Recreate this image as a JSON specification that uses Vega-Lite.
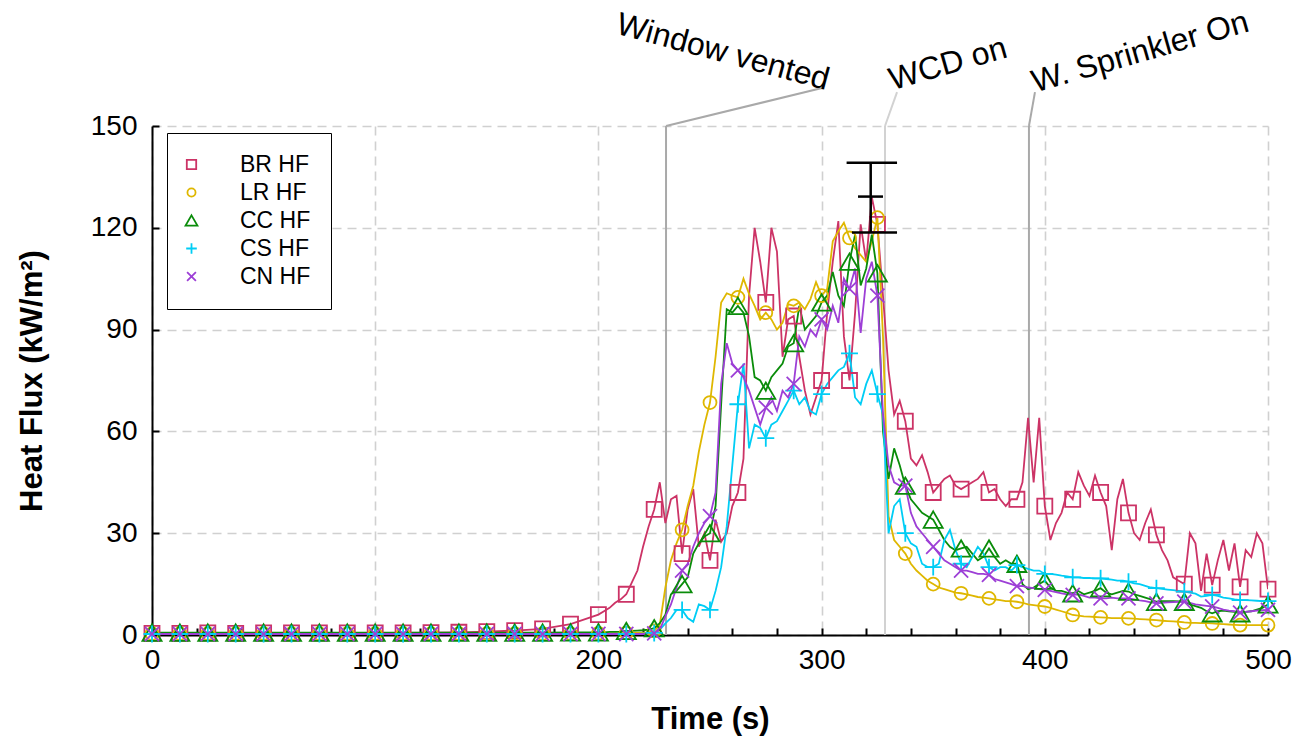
{
  "$schema": "https://vega.github.io/schema/vega-lite/v6.json",
  "width": 1116,
  "height": 509,
  "autosize": {"type": "none"},
  "padding": {"left": 152, "top": 126, "right": 43, "bottom": 103},
  "background": "white",
  "config": {
    "view": {"stroke": null},
    "font": "Liberation Sans",
    "axis": {
      "labelFont": "Liberation Sans",
      "labelFontSize": 28,
      "labelColor": "black",
      "labelOverlap": false,
      "titleFont": "Liberation Sans",
      "titleFontSize": 31,
      "titleFontWeight": "bold",
      "titleColor": "black",
      "domainColor": "black",
      "domainWidth": 2,
      "tickColor": "black",
      "tickWidth": 2,
      "tickSize": -7,
      "gridColor": "#d0d0d0",
      "gridDash": [9, 6],
      "gridWidth": 1.6
    }
  },
  "datasets": {
    "flux": [
      {"t": 0, "BR HF": 0.5, "LR HF": 0.4, "CC HF": 0.7, "CS HF": 0.3, "CN HF": 0.3},
      {"t": 12.5, "BR HF": 0.5, "LR HF": 0.4, "CC HF": 0.7, "CS HF": 0.3, "CN HF": 0.3},
      {"t": 25, "BR HF": 0.6, "LR HF": 0.4, "CC HF": 0.7, "CS HF": 0.3, "CN HF": 0.3},
      {"t": 37.5, "BR HF": 0.5, "LR HF": 0.4, "CC HF": 0.7, "CS HF": 0.3, "CN HF": 0.3},
      {"t": 50, "BR HF": 0.6, "LR HF": 0.4, "CC HF": 0.7, "CS HF": 0.3, "CN HF": 0.3},
      {"t": 62.5, "BR HF": 0.6, "LR HF": 0.4, "CC HF": 0.7, "CS HF": 0.3, "CN HF": 0.3},
      {"t": 75, "BR HF": 0.6, "LR HF": 0.4, "CC HF": 0.7, "CS HF": 0.3, "CN HF": 0.3},
      {"t": 87.5, "BR HF": 0.6, "LR HF": 0.4, "CC HF": 0.7, "CS HF": 0.3, "CN HF": 0.3},
      {"t": 100, "BR HF": 0.6, "LR HF": 0.4, "CC HF": 0.7, "CS HF": 0.3, "CN HF": 0.3},
      {"t": 112.5, "BR HF": 0.6, "LR HF": 0.4, "CC HF": 0.7, "CS HF": 0.3, "CN HF": 0.3},
      {"t": 125, "BR HF": 0.7, "LR HF": 0.4, "CC HF": 0.7, "CS HF": 0.3, "CN HF": 0.3},
      {"t": 137.5, "BR HF": 0.8, "LR HF": 0.4, "CC HF": 0.7, "CS HF": 0.3, "CN HF": 0.3},
      {"t": 150, "BR HF": 1.0, "LR HF": 0.4, "CC HF": 0.7, "CS HF": 0.3, "CN HF": 0.3},
      {"t": 162.5, "BR HF": 1.3, "LR HF": 0.4, "CC HF": 0.7, "CS HF": 0.3, "CN HF": 0.3},
      {"t": 175, "BR HF": 1.8, "LR HF": 0.4, "CC HF": 0.7, "CS HF": 0.3, "CN HF": 0.3},
      {"t": 187.5, "BR HF": 3.2, "LR HF": 0.4, "CC HF": 0.8, "CS HF": 0.3, "CN HF": 0.3},
      {"t": 200, "BR HF": 6, "LR HF": 0.5, "CC HF": 0.8, "CS HF": 0.3, "CN HF": 0.3},
      {"t": 202.5, "BR HF": 7, "LR HF": 0.5, "CC HF": 0.8, "CS HF": 0.3, "CN HF": 0.3},
      {"t": 205, "BR HF": 8, "LR HF": 0.5, "CC HF": 0.9, "CS HF": 0.3, "CN HF": 0.3},
      {"t": 207.5, "BR HF": 9.5, "LR HF": 0.5, "CC HF": 0.9, "CS HF": 0.3, "CN HF": 0.3},
      {"t": 210, "BR HF": 10.5, "LR HF": 0.5, "CC HF": 1, "CS HF": 0.3, "CN HF": 0.3},
      {"t": 212.5, "BR HF": 12, "LR HF": 0.6, "CC HF": 1.2, "CS HF": 0.3, "CN HF": 0.3},
      {"t": 215, "BR HF": 15.5, "LR HF": 0.6, "CC HF": 1.2, "CS HF": 0.3, "CN HF": 0.3},
      {"t": 217.5, "BR HF": 19, "LR HF": 0.6, "CC HF": 1.3, "CS HF": 0.3, "CN HF": 0.3},
      {"t": 220, "BR HF": 26, "LR HF": 0.7, "CC HF": 1.4, "CS HF": 0.4, "CN HF": 0.3},
      {"t": 222.5, "BR HF": 32, "LR HF": 0.8, "CC HF": 1.6, "CS HF": 0.5, "CN HF": 0.4},
      {"t": 225, "BR HF": 37, "LR HF": 1.2, "CC HF": 2, "CS HF": 0.6, "CN HF": 0.5},
      {"t": 227.5, "BR HF": 45, "LR HF": 3, "CC HF": 3.5, "CS HF": 1.5, "CN HF": 1.5},
      {"t": 230, "BR HF": 33, "LR HF": 14, "CC HF": 6, "CS HF": 3.4, "CN HF": 5.5},
      {"t": 232.5, "BR HF": 40, "LR HF": 22, "CC HF": 12, "CS HF": 5, "CN HF": 9},
      {"t": 235, "BR HF": 41, "LR HF": 27, "CC HF": 13, "CS HF": 7.4, "CN HF": 14},
      {"t": 237.5, "BR HF": 24, "LR HF": 31, "CC HF": 15, "CS HF": 7.4, "CN HF": 19},
      {"t": 240, "BR HF": 37, "LR HF": 38, "CC HF": 17, "CS HF": 5, "CN HF": 21},
      {"t": 242.5, "BR HF": 43, "LR HF": 44, "CC HF": 24, "CS HF": 3.9, "CN HF": 26},
      {"t": 245, "BR HF": 26, "LR HF": 54, "CC HF": 27, "CS HF": 9, "CN HF": 30},
      {"t": 247.5, "BR HF": 30, "LR HF": 62, "CC HF": 29, "CS HF": 8.5, "CN HF": 33},
      {"t": 250, "BR HF": 22, "LR HF": 68.5, "CC HF": 30, "CS HF": 7.4, "CN HF": 35},
      {"t": 252.5, "BR HF": 34, "LR HF": 82, "CC HF": 38, "CS HF": 13, "CN HF": 42},
      {"t": 255, "BR HF": 27.5, "LR HF": 98, "CC HF": 68, "CS HF": 20, "CN HF": 74},
      {"t": 257.5, "BR HF": 30, "LR HF": 100.7, "CC HF": 96, "CS HF": 32, "CN HF": 86},
      {"t": 260, "BR HF": 38, "LR HF": 100, "CC HF": 95, "CS HF": 50, "CN HF": 80},
      {"t": 262.5, "BR HF": 42, "LR HF": 99.5, "CC HF": 97, "CS HF": 68, "CN HF": 78},
      {"t": 265, "BR HF": 52, "LR HF": 105, "CC HF": 95, "CS HF": 80, "CN HF": 76},
      {"t": 267.5, "BR HF": 100, "LR HF": 100.5, "CC HF": 88, "CS HF": 55, "CN HF": 72},
      {"t": 270, "BR HF": 120, "LR HF": 97, "CC HF": 76, "CS HF": 62, "CN HF": 67},
      {"t": 272.5, "BR HF": 110, "LR HF": 93, "CC HF": 75, "CS HF": 61, "CN HF": 62},
      {"t": 275, "BR HF": 98, "LR HF": 95, "CC HF": 72, "CS HF": 58, "CN HF": 67},
      {"t": 277.5, "BR HF": 120, "LR HF": 93, "CC HF": 76, "CS HF": 62, "CN HF": 70},
      {"t": 280, "BR HF": 113, "LR HF": 90, "CC HF": 78, "CS HF": 63, "CN HF": 66},
      {"t": 282.5, "BR HF": 82, "LR HF": 92, "CC HF": 80, "CS HF": 66, "CN HF": 72},
      {"t": 285, "BR HF": 93, "LR HF": 97.5, "CC HF": 85, "CS HF": 69, "CN HF": 70},
      {"t": 287.5, "BR HF": 94, "LR HF": 97, "CC HF": 86, "CS HF": 72, "CN HF": 74},
      {"t": 290, "BR HF": 82, "LR HF": 98, "CC HF": 97, "CS HF": 68, "CN HF": 88},
      {"t": 292.5, "BR HF": 72, "LR HF": 96, "CC HF": 90, "CS HF": 70, "CN HF": 85},
      {"t": 295, "BR HF": 65, "LR HF": 99, "CC HF": 92, "CS HF": 66, "CN HF": 90},
      {"t": 297.5, "BR HF": 70, "LR HF": 104, "CC HF": 94, "CS HF": 65, "CN HF": 88},
      {"t": 300, "BR HF": 75, "LR HF": 100, "CC HF": 98, "CS HF": 71, "CN HF": 93},
      {"t": 302.5, "BR HF": 95, "LR HF": 102, "CC HF": 100, "CS HF": 74, "CN HF": 90},
      {"t": 305, "BR HF": 110, "LR HF": 116, "CC HF": 107, "CS HF": 76, "CN HF": 97},
      {"t": 307.5, "BR HF": 122, "LR HF": 119, "CC HF": 100, "CS HF": 78, "CN HF": 92},
      {"t": 310, "BR HF": 88, "LR HF": 121.5, "CC HF": 97, "CS HF": 79, "CN HF": 105},
      {"t": 312.5, "BR HF": 75, "LR HF": 117, "CC HF": 110, "CS HF": 83, "CN HF": 102},
      {"t": 315, "BR HF": 95, "LR HF": 114, "CC HF": 118, "CS HF": 70, "CN HF": 108},
      {"t": 317.5, "BR HF": 121, "LR HF": 112, "CC HF": 103, "CS HF": 68, "CN HF": 89},
      {"t": 320, "BR HF": 110, "LR HF": 110, "CC HF": 108, "CS HF": 74, "CN HF": 105},
      {"t": 322.5, "BR HF": 129, "LR HF": 116, "CC HF": 118, "CS HF": 78, "CN HF": 110},
      {"t": 325, "BR HF": 121, "LR HF": 123, "CC HF": 106.6, "CS HF": 71, "CN HF": 100},
      {"t": 327.5, "BR HF": 100, "LR HF": 88, "CC HF": 60, "CS HF": 65, "CN HF": 65},
      {"t": 330, "BR HF": 78, "LR HF": 35, "CC HF": 46, "CS HF": 30, "CN HF": 50},
      {"t": 332.5, "BR HF": 65, "LR HF": 28, "CC HF": 55, "CS HF": 38, "CN HF": 45},
      {"t": 335, "BR HF": 69, "LR HF": 26, "CC HF": 50, "CS HF": 40, "CN HF": 44},
      {"t": 337.5, "BR HF": 63, "LR HF": 24, "CC HF": 44, "CS HF": 30, "CN HF": 44},
      {"t": 340, "BR HF": 52, "LR HF": 21, "CC HF": 40, "CS HF": 27, "CN HF": 36},
      {"t": 342.5, "BR HF": 50, "LR HF": 19, "CC HF": 38, "CS HF": 26, "CN HF": 32},
      {"t": 345, "BR HF": 53, "LR HF": 17.5, "CC HF": 36, "CS HF": 21, "CN HF": 30},
      {"t": 347.5, "BR HF": 48, "LR HF": 16, "CC HF": 35, "CS HF": 20, "CN HF": 28},
      {"t": 350, "BR HF": 42, "LR HF": 15, "CC HF": 34, "CS HF": 20, "CN HF": 26},
      {"t": 352.5, "BR HF": 44, "LR HF": 14, "CC HF": 31, "CS HF": 21, "CN HF": 24},
      {"t": 355, "BR HF": 46, "LR HF": 13.5, "CC HF": 28, "CS HF": 28, "CN HF": 22},
      {"t": 357.5, "BR HF": 47, "LR HF": 13, "CC HF": 26, "CS HF": 31, "CN HF": 21},
      {"t": 360, "BR HF": 44, "LR HF": 12.5, "CC HF": 25, "CS HF": 25, "CN HF": 20},
      {"t": 362.5, "BR HF": 43, "LR HF": 12.3, "CC HF": 25.5, "CS HF": 21, "CN HF": 19},
      {"t": 365, "BR HF": 44, "LR HF": 12, "CC HF": 26, "CS HF": 20, "CN HF": 19},
      {"t": 367.5, "BR HF": 45, "LR HF": 11.6, "CC HF": 24, "CS HF": 23, "CN HF": 18.5},
      {"t": 370, "BR HF": 46, "LR HF": 11.2, "CC HF": 22, "CS HF": 26, "CN HF": 18},
      {"t": 372.5, "BR HF": 48, "LR HF": 11, "CC HF": 23, "CS HF": 24, "CN HF": 18},
      {"t": 375, "BR HF": 42, "LR HF": 10.8, "CC HF": 25.5, "CS HF": 20, "CN HF": 17.7},
      {"t": 377.5, "BR HF": 43, "LR HF": 10.5, "CC HF": 23, "CS HF": 19, "CN HF": 16.5},
      {"t": 380, "BR HF": 40, "LR HF": 10.3, "CC HF": 21, "CS HF": 20, "CN HF": 16},
      {"t": 382.5, "BR HF": 38, "LR HF": 10, "CC HF": 22, "CS HF": 20, "CN HF": 15.5},
      {"t": 385, "BR HF": 40, "LR HF": 10, "CC HF": 21, "CS HF": 19, "CN HF": 15},
      {"t": 387.5, "BR HF": 40, "LR HF": 9.8, "CC HF": 21, "CS HF": 20.6, "CN HF": 14.4},
      {"t": 390, "BR HF": 45, "LR HF": 9.5, "CC HF": 15, "CS HF": 20, "CN HF": 14.5},
      {"t": 392.5, "BR HF": 64, "LR HF": 9, "CC HF": 13.5, "CS HF": 19.5, "CN HF": 14},
      {"t": 395, "BR HF": 45, "LR HF": 8.8, "CC HF": 14, "CS HF": 19, "CN HF": 13.8},
      {"t": 397.5, "BR HF": 64, "LR HF": 8.6, "CC HF": 15, "CS HF": 19, "CN HF": 13.5},
      {"t": 400, "BR HF": 38, "LR HF": 8.4, "CC HF": 16, "CS HF": 18, "CN HF": 13.3},
      {"t": 402.5, "BR HF": 28, "LR HF": 8, "CC HF": 14, "CS HF": 18, "CN HF": 13},
      {"t": 405, "BR HF": 33, "LR HF": 7.5, "CC HF": 13, "CS HF": 17.8, "CN HF": 12.6},
      {"t": 407.5, "BR HF": 36, "LR HF": 7, "CC HF": 13, "CS HF": 17.5, "CN HF": 12.3},
      {"t": 410, "BR HF": 42, "LR HF": 6.5, "CC HF": 12.5, "CS HF": 17.3, "CN HF": 12},
      {"t": 412.5, "BR HF": 40, "LR HF": 5.9, "CC HF": 12.3, "CS HF": 17, "CN HF": 11.8},
      {"t": 415, "BR HF": 48, "LR HF": 5.7, "CC HF": 13, "CS HF": 17, "CN HF": 12},
      {"t": 417.5, "BR HF": 44, "LR HF": 5.5, "CC HF": 12, "CS HF": 16.8, "CN HF": 11.5},
      {"t": 420, "BR HF": 41, "LR HF": 5.4, "CC HF": 12.5, "CS HF": 16.8, "CN HF": 11},
      {"t": 422.5, "BR HF": 47, "LR HF": 5.3, "CC HF": 13, "CS HF": 16.7, "CN HF": 11},
      {"t": 425, "BR HF": 42, "LR HF": 5.2, "CC HF": 13.8, "CS HF": 16.7, "CN HF": 10.8},
      {"t": 427.5, "BR HF": 38, "LR HF": 5.1, "CC HF": 12.5, "CS HF": 16.5, "CN HF": 10.8},
      {"t": 430, "BR HF": 25, "LR HF": 5, "CC HF": 12, "CS HF": 16.3, "CN HF": 11},
      {"t": 432.5, "BR HF": 40, "LR HF": 5, "CC HF": 12.5, "CS HF": 16, "CN HF": 10.8},
      {"t": 435, "BR HF": 46, "LR HF": 5, "CC HF": 13, "CS HF": 16, "CN HF": 10.8},
      {"t": 437.5, "BR HF": 36, "LR HF": 4.9, "CC HF": 12.8, "CS HF": 15.7, "CN HF": 10.8},
      {"t": 440, "BR HF": 30, "LR HF": 4.8, "CC HF": 12, "CS HF": 15.2, "CN HF": 10.5},
      {"t": 442.5, "BR HF": 28, "LR HF": 4.7, "CC HF": 11.5, "CS HF": 15, "CN HF": 10.2},
      {"t": 445, "BR HF": 33, "LR HF": 4.6, "CC HF": 11, "CS HF": 14.5, "CN HF": 10},
      {"t": 447.5, "BR HF": 37, "LR HF": 4.5, "CC HF": 10.5, "CS HF": 14, "CN HF": 9.6},
      {"t": 450, "BR HF": 29.5, "LR HF": 4.4, "CC HF": 9.8, "CS HF": 13.8, "CN HF": 9.3},
      {"t": 452.5, "BR HF": 25, "LR HF": 4.2, "CC HF": 10, "CS HF": 13.6, "CN HF": 9.5},
      {"t": 455, "BR HF": 22, "LR HF": 4.1, "CC HF": 10, "CS HF": 13.4, "CN HF": 9.6},
      {"t": 457.5, "BR HF": 17, "LR HF": 4, "CC HF": 10, "CS HF": 13.2, "CN HF": 9.7},
      {"t": 460, "BR HF": 16, "LR HF": 3.9, "CC HF": 9.9, "CS HF": 13, "CN HF": 9.8},
      {"t": 462.5, "BR HF": 15, "LR HF": 3.7, "CC HF": 9.8, "CS HF": 12.8, "CN HF": 9.8},
      {"t": 465, "BR HF": 30, "LR HF": 3.6, "CC HF": 9, "CS HF": 12.5, "CN HF": 9.5},
      {"t": 467.5, "BR HF": 27, "LR HF": 3.6, "CC HF": 8.5, "CS HF": 12.2, "CN HF": 9},
      {"t": 470, "BR HF": 13, "LR HF": 3.5, "CC HF": 8, "CS HF": 11.3, "CN HF": 8.8},
      {"t": 472.5, "BR HF": 24, "LR HF": 3.5, "CC HF": 7, "CS HF": 11.5, "CN HF": 8.6},
      {"t": 475, "BR HF": 14.7, "LR HF": 3.4, "CC HF": 6.4, "CS HF": 11.8, "CN HF": 8.4},
      {"t": 477.5, "BR HF": 22, "LR HF": 3.3, "CC HF": 7, "CS HF": 11.5, "CN HF": 8},
      {"t": 480, "BR HF": 28, "LR HF": 3.2, "CC HF": 7.2, "CS HF": 11, "CN HF": 7.5},
      {"t": 482.5, "BR HF": 19, "LR HF": 3.1, "CC HF": 7, "CS HF": 10.8, "CN HF": 7.2},
      {"t": 485, "BR HF": 27, "LR HF": 3, "CC HF": 6.8, "CS HF": 10.5, "CN HF": 7},
      {"t": 487.5, "BR HF": 14.2, "LR HF": 2.9, "CC HF": 6.4, "CS HF": 10.3, "CN HF": 6.6},
      {"t": 490, "BR HF": 25, "LR HF": 2.9, "CC HF": 6.8, "CS HF": 10.3, "CN HF": 6.8},
      {"t": 492.5, "BR HF": 23, "LR HF": 2.9, "CC HF": 7, "CS HF": 10.2, "CN HF": 7},
      {"t": 495, "BR HF": 30, "LR HF": 2.9, "CC HF": 7.5, "CS HF": 10.1, "CN HF": 7.2},
      {"t": 497.5, "BR HF": 27, "LR HF": 2.9, "CC HF": 8, "CS HF": 10, "CN HF": 7.3},
      {"t": 500, "BR HF": 13.5, "LR HF": 2.9, "CC HF": 9, "CS HF": 10, "CN HF": 7.4}
    ],
    "events": [
      {"event": "Window vented", "t": 230.3, "base": 150, "tx": 300.2, "ty": 161.2, "lx": 255.8, "ly": 171.8},
      {"event": "WCD on", "t": 328.4, "base": 150, "tx": 333.8, "ty": 160, "lx": 356.6, "ly": 168.3},
      {"event": "W. Sprinkler On", "t": 392.9, "base": 150, "tx": 395.6, "ty": 160, "lx": 442.7, "ly": 171.8}
    ],
    "spread": [
      {"t": 322, "lo": 118.6, "hi": 139.2}
    ],
    "caps": [
      {"a": 311.2, "b": 333.8, "v": 139.2},
      {"a": 316.3, "b": 327.5, "v": 129.2},
      {"a": 313.6, "b": 333.8, "v": 118.6}
    ]
  },
  "layer": [
    {
      "data": {"name": "events"},
      "transform": [{"filter": "datum.event !== 'WCD on'"}],
      "mark": {"type": "rule", "strokeWidth": 2, "color": "#a9a9a9"},
      "encoding": {
        "x": {
          "field": "t", "type": "quantitative", "title": "Time (s)",
          "scale": {"domain": [0, 500], "nice": false, "zero": false},
          "axis": {
            "values": [0, 20, 40, 60, 80, 100, 120, 140, 160, 180, 200, 220, 240, 260, 280, 300, 320, 340, 360, 380, 400, 420, 440, 460, 480, 500],
            "labelExpr": "round(datum.value) % 100 === 0 ? datum.label : ''",
            "labelFontSize": {"condition": {"test": "round(datum.value) % 100 === 0", "value": 28}, "value": 1},
            "gridOpacity": {"condition": {"test": "round(datum.value) % 100 === 0", "value": 1}, "value": 0},
            "labelPadding": 18,
            "labelFlush": false,
            "labelOverlap": false,
            "titlePadding": 30
          }
        }
      }
    },
    {
      "data": {"name": "events"},
      "transform": [{"filter": "datum.event === 'WCD on'"}],
      "mark": {"type": "rule", "strokeWidth": 2, "color": "#d2d2d2"},
      "encoding": {
        "x": {"field": "t", "type": "quantitative", "title": "Time (s)"}
      }
    },
    {
      "data": {"name": "flux"},
      "transform": [{"fold": ["BR HF", "LR HF", "CC HF", "CS HF", "CN HF"], "as": ["s", "v"]}],
      "mark": {"type": "line", "strokeWidth": 1.8, "clip": true},
      "encoding": {
        "x": {"field": "t", "type": "quantitative", "title": "Time (s)"},
        "y": {
          "field": "v", "type": "quantitative", "title": "Heat Flux (kW/m²)",
          "scale": {"domain": [0, 150], "nice": false},
          "axis": {
            "values": [0, 30, 60, 90, 120, 150],
            "labelPadding": 22,
            "labelFlush": false,
            "labelOverlap": false,
            "titlePadding": 42
          }
        },
        "color": {
          "field": "s", "type": "nominal",
          "scale": {"domain": ["BR HF", "LR HF", "CC HF", "CS HF", "CN HF"], "range": ["#cc3366", "#dfb700", "#0a8c0a", "#00cdf5", "#9d3fd6"]}
        }
      }
    },
    {
      "data": {"name": "flux"},
      "transform": [
        {"fold": ["BR HF", "LR HF", "CC HF", "CS HF", "CN HF"], "as": ["s", "v"]},
        {"filter": "datum.t % 12.5 === 0"}
      ],
      "mark": {"type": "point", "filled": false, "strokeWidth": 1.8, "opacity": 1, "size": 256},
      "encoding": {
        "x": {"field": "t", "type": "quantitative", "title": "Time (s)"},
        "y": {"field": "v", "type": "quantitative", "title": "Heat Flux (kW/m²)"},
        "color": {
          "field": "s", "type": "nominal",
          "legend": {
            "title": null, "orient": "none", "legendX": 15, "legendY": 7,
            "labelFontSize": 23, "labelFont": "Liberation Sans", "labelColor": "black",
            "symbolSize": 100, "symbolStrokeWidth": 1.8, "symbolOffset": -7, "labelOffset": 37, "rowPadding": 4,
            "padding": 20, "strokeColor": "black", "fillColor": "white", "cornerRadius": 0
          }
        },
        "shape": {
          "field": "s", "type": "nominal",
          "scale": {"domain": ["BR HF", "LR HF", "CC HF", "CS HF", "CN HF"], "range": [
            "M-0.94,-0.94H0.94V0.94H-0.94Z",
            "M0.81,0A0.81,0.81,0,1,1,-0.81,0A0.81,0.81,0,1,1,0.81,0",
            "M0,-1.03L1.19,1.03L-1.19,1.03Z",
            "M-1.06,0H1.06M0,-1.06V1.06",
            "M-0.88,-0.88L0.88,0.88M-0.88,0.88L0.88,-0.88"
          ]},
          "legend": {
            "title": null, "orient": "none", "legendX": 15, "legendY": 7,
            "labelFontSize": 23, "labelFont": "Liberation Sans", "labelColor": "black",
            "symbolSize": 100, "symbolStrokeWidth": 1.8, "symbolOffset": -7, "labelOffset": 37, "rowPadding": 4,
            "padding": 20, "strokeColor": "black", "fillColor": "white", "cornerRadius": 0
          }
        }
      }
    },
    {
      "data": {"name": "events"},
      "transform": [{"filter": "datum.event !== 'WCD on'"}],
      "mark": {"type": "rule", "strokeWidth": 2, "color": "#a9a9a9"},
      "encoding": {
        "x": {"field": "t", "type": "quantitative", "title": "Time (s)"},
        "y": {"field": "base", "type": "quantitative", "title": "Heat Flux (kW/m²)"},
        "x2": {"field": "tx"},
        "y2": {"field": "ty"}
      }
    },
    {
      "data": {"name": "events"},
      "transform": [{"filter": "datum.event === 'WCD on'"}],
      "mark": {"type": "rule", "strokeWidth": 2, "color": "#d2d2d2"},
      "encoding": {
        "x": {"field": "t", "type": "quantitative", "title": "Time (s)"},
        "y": {"field": "base", "type": "quantitative", "title": "Heat Flux (kW/m²)"},
        "x2": {"field": "tx"},
        "y2": {"field": "ty"}
      }
    },
    {
      "data": {"name": "events"},
      "transform": [{"filter": "datum.event === 'Window vented'"}],
      "mark": {"type": "text", "fontSize": 32, "font": "Liberation Sans", "align": "center", "baseline": "middle", "color": "black", "angle": 15},
      "encoding": {
        "x": {"field": "lx", "type": "quantitative", "title": "Time (s)"},
        "y": {"field": "ly", "type": "quantitative", "title": "Heat Flux (kW/m²)"},
        "text": {"field": "event"}
      }
    },
    {
      "data": {"name": "events"},
      "transform": [{"filter": "datum.event !== 'Window vented'"}],
      "mark": {"type": "text", "fontSize": 32, "font": "Liberation Sans", "align": "center", "baseline": "middle", "color": "black", "angle": 344},
      "encoding": {
        "x": {"field": "lx", "type": "quantitative", "title": "Time (s)"},
        "y": {"field": "ly", "type": "quantitative", "title": "Heat Flux (kW/m²)"},
        "text": {"field": "event"}
      }
    },
    {
      "data": {"name": "spread"},
      "mark": {"type": "rule", "strokeWidth": 2.5, "color": "black"},
      "encoding": {
        "x": {"field": "t", "type": "quantitative", "title": "Time (s)"},
        "y": {"field": "lo", "type": "quantitative", "title": "Heat Flux (kW/m²)"},
        "y2": {"field": "hi"}
      }
    },
    {
      "data": {"name": "caps"},
      "mark": {"type": "rule", "strokeWidth": 2.5, "color": "black"},
      "encoding": {
        "x": {"field": "a", "type": "quantitative", "title": "Time (s)"},
        "x2": {"field": "b"},
        "y": {"field": "v", "type": "quantitative", "title": "Heat Flux (kW/m²)"}
      }
    }
  ]
}
